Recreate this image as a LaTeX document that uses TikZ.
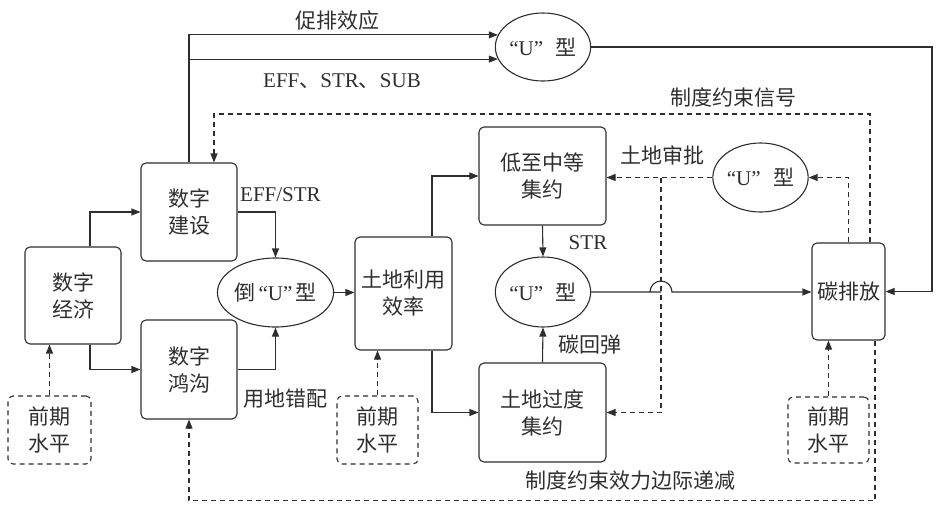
\documentclass[tikz,border=0pt]{standalone}
\usepackage{fontspec}
\setmainfont{Liberation Serif}
\newfontfamily\cjk{Noto Sans CJK SC}
\usetikzlibrary{arrows.meta,shapes.geometric}
\definecolor{ink}{HTML}{2E2E2E}
\tikzset{
  box/.style={draw=ink, rounded corners=5pt, line width=1.1pt, align=center, text=ink, inner sep=0pt, font=\cjk\fontsize{21}{27}\selectfont},
  prevbox/.style={box, dash pattern=on 5pt off 4pt},
  oval/.style={draw=ink, ellipse, line width=1.1pt, inner sep=0pt, text=ink, font=\fontsize{21}{25}\selectfont},
  arr/.style={-{Triangle[length=9pt,width=7pt]}, draw=ink, line width=1.1pt},
  darr/.style={arr, dash pattern=on 5pt off 4pt},
  lbl/.style={text=ink, inner sep=0pt, font=\cjk\fontsize{21}{25}\selectfont},
  latin/.style={text=ink, inner sep=0pt, font=\fontsize{21}{25}\selectfont}
}
\newcommand{\ushape}{“U”\hspace{0.6em}{\cjk 型}}
\begin{document}
\begin{tikzpicture}[x=1pt, y=-1pt]
\useasboundingbox (0,0) rectangle (940,512);
\node[box, minimum width=96pt, minimum height=97pt] (econ) at (73,295.5) {数字\\经济};
\node[box, minimum width=96pt, minimum height=98pt] (build) at (189,212) {数字\\建设};
\node[box, minimum width=96pt, minimum height=99pt] (gap) at (189,369.5) {数字\\鸿沟};
\node[oval, minimum width=93pt, minimum height=69pt] (dao) at (275.5,292.5) {{\cjk 倒}\hspace{0.15em}“U”\hspace{0.15em}{\cjk 型}};
\node[box, minimum width=97pt, minimum height=113pt] (eff) at (403.5,293.5) {土地利用\\效率};
\node[box, minimum width=127pt, minimum height=98pt] (low) at (542.5,176) {低至中等\\集约};
\node[box, minimum width=127pt, minimum height=99pt] (over) at (542.5,412.5) {土地过度\\集约};
\node[oval, minimum width=92pt, minimum height=70pt] (umid) at (543,292) {\ushape};
\node[oval, minimum width=92pt, minimum height=68pt] (utop) at (543,47) {\ushape};
\node[oval, minimum width=93pt, minimum height=69pt] (uright) at (760.5,177.5) {\ushape};
\node[box, minimum width=73pt, minimum height=97pt] (carbon) at (848.5,291.5) {碳排放};
\node[prevbox, minimum width=83pt, minimum height=68pt] (prev1) at (49.5,430) {前期\\水平};
\node[prevbox, minimum width=81pt, minimum height=68pt] (prev2) at (377.5,430) {前期\\水平};
\node[prevbox, minimum width=81pt, minimum height=66pt] (prev3) at (828.5,430) {前期\\水平};
\coordinate (split) at (661,177.5);
\coordinate (rt) at (932,47);
\coordinate (sig) at (214,114);
\draw[arr] ([xshift=17pt]econ.north) |- (build.west);
\draw[arr] ([xshift=17pt]econ.south) |- (gap.west);
\draw[arr] (build.east) -| (dao.north);
\draw[arr] (gap.east) -| (dao.south);
\draw[arr] (dao.east) -- (dao.east -| eff.west);
\draw[arr] ([xshift=28.5pt]eff.north) |- (low.west);
\draw[arr] ([xshift=28.5pt]eff.south) |- (over.west);
\draw[arr] (low.south) -- (umid.north);
\draw[arr] (over.north) -- (umid.south);
\draw[arr] (umid.east) -- (split |- umid.east) ++(-11,0) arc[start angle=180, end angle=0, radius=11pt] -- (umid.east -| carbon.west);
\draw[arr] (build.north) |- (utop.165);
\draw[arr] (build.north |- utop.195) -- (utop.195);
\draw[arr] (utop.east) -- (rt) |- (carbon.east);
\draw[darr] (uright.west) -- (uright.west -| low.east);
\draw[darr] (split) |- (over.east);
\draw[darr] (carbon.north) |- (uright.east);
\draw[darr] ([xshift=21.5pt]carbon.north) |- (sig) -- ([xshift=25pt]build.north);
\draw[darr] ([xshift=26.5pt]carbon.south) -- ++(0,160) -| (gap.south);
\draw[darr] (prev1.north) -- (prev1.north |- econ.south);
\draw[darr] (prev2.north) -- (prev2.north |- eff.south);
\draw[darr] (prev3.north) -- (prev3.north |- carbon.south);
\node[lbl] (l1) at (337,21) {促排效应};
\node[latin] (l2) at (342,81) {EFF{\cjk 、}STR{\cjk 、}SUB};
\node[lbl] (l3) at (733,97) {制度约束信号};
\node[latin, anchor=west] (l4) at (240,195) {EFF/STR};
\node[lbl] (l5) at (285,399) {用地错配};
\node[lbl] (l6) at (662,155) {土地审批};
\node[latin] (l7) at (588,243) {STR};
\node[lbl] (l8) at (590,345) {碳回弹};
\node[lbl] (l9) at (630,481) {制度约束效力边际递减};
\end{tikzpicture}
\end{document}
